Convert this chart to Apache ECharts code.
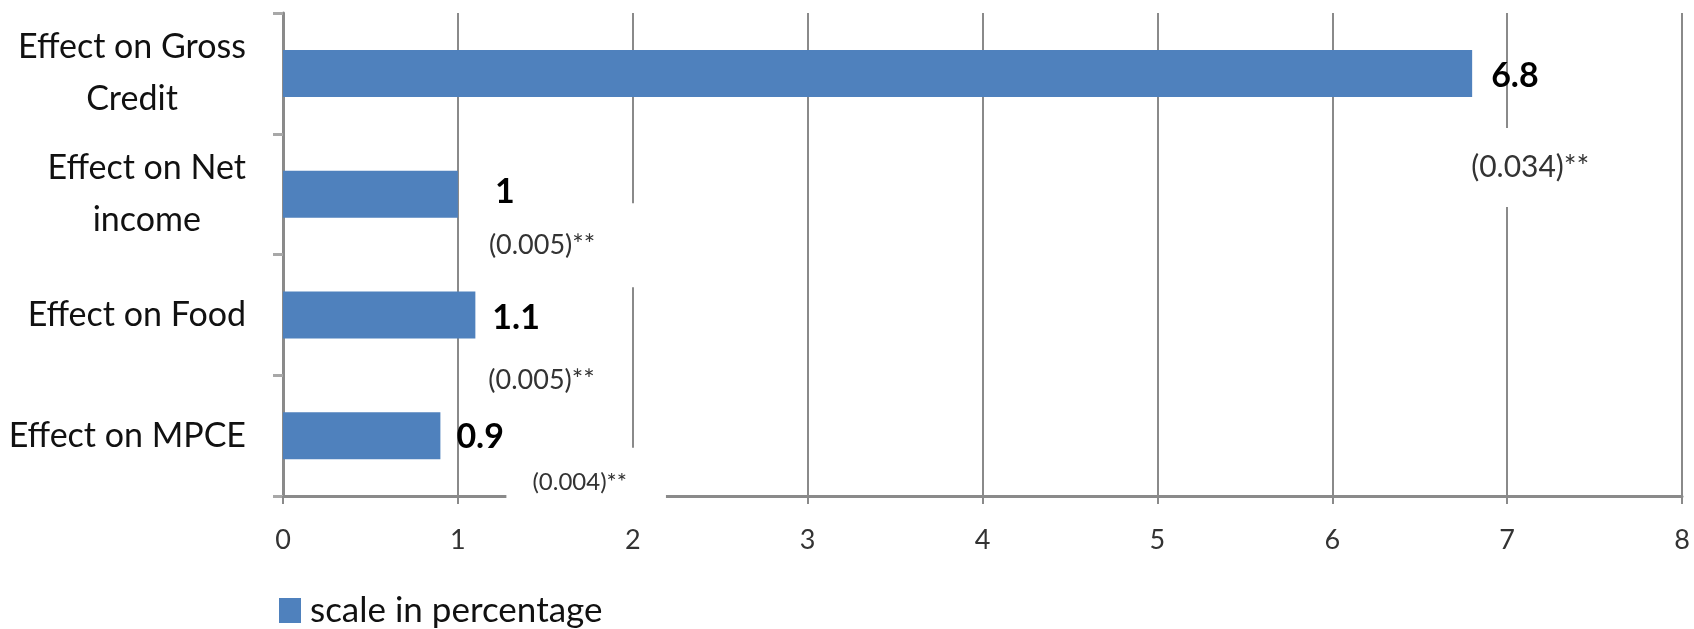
<!DOCTYPE html>
<html>
<head>
<meta charset="utf-8">
<script src="https://cdn.jsdelivr.net/npm/echarts@6/dist/echarts.min.js"></script>
<style>
html,body{margin:0;padding:0;background:#fff;}
#chart{width:1694px;height:629px;}
</style>
</head>
<body>
<div id="chart"></div>
<script>
// ---- data ----
const categories = ['Effect on Gross\nCredit', 'Effect on Net\nincome', 'Effect on Food', 'Effect on MPCE'];
const values = [6.8, 1, 1.1, 0.9];
const stdErrors = ['(0.034)**', '(0.005)**', '(0.005)**', '(0.004)**'];
const seriesName = 'scale in percentage';
const axisMin = 0;
const axisMax = 8;
const axisStep = 1;

// ---- label layout (manually placed labels in the original) ----
const valueLabelShift = [[0, 3], [18, -2], [-2, 3], [-3, 1]];
const seLabelLayout = [
  { dx: -11, dy: 94, size: 30, pad: [24, 12, 25, 10] },
  { dx: 13, dy: 51, size: 27, pad: [28, 45, 29, 18] },
  { dx: 5, dy: 65, size: 27, pad: [12, 25, 12, 8] },
  { dx: 66, dy: 47, size: 24, pad: [22, 39, 24, 26] }
];

const FONT = 'Lato';
const AXIS_GRAY = '#8a8a8a';
const BAR_BLUE = '#4f81bd';

const chart = echarts.init(document.getElementById('chart'), null, { renderer: 'canvas' });

chart.setOption({
  backgroundColor: '#ffffff',
  animation: false,
  grid: { left: 283, right: 12, top: 13, bottom: 133, containLabel: false, outerBoundsMode: 'none' },
  legend: {
    data: [seriesName],
    left: 279,
    top: 593,
    padding: 0,
    icon: 'rect',
    itemWidth: 22,
    itemHeight: 25,
    textStyle: { fontFamily: FONT, fontSize: 35, color: '#111', padding: [0, 0, 0, 4] }
  },
  xAxis: {
    type: 'value',
    min: axisMin,
    max: axisMax,
    interval: axisStep,
    axisLine: { show: true, lineStyle: { color: AXIS_GRAY, width: 3 } },
    axisTick: { show: true, length: 8, lineStyle: { color: AXIS_GRAY, width: 2 } },
    axisLabel: { fontFamily: FONT, fontSize: 27, color: '#333', margin: 31 },
    splitLine: { show: true, lineStyle: { color: AXIS_GRAY, width: 2 } }
  },
  yAxis: {
    type: 'category',
    data: categories,
    inverse: true,
    axisLine: { show: true, lineStyle: { color: AXIS_GRAY, width: 3 } },
    axisTick: { show: true, length: 10, lineStyle: { color: '#a8a8a8', width: 3 } },
    axisLabel: {
      margin: 37,
      formatter: v => v.split('\n').map(s => '{c|' + s + '}').join('\n'),
      rich: { c: { fontFamily: FONT, fontSize: 34, color: '#111', lineHeight: 52, align: 'center' } }
    },
    splitLine: { show: false }
  },
  series: [
    {
      name: 'std-error',
      type: 'bar',
      barWidth: 47,
      barGap: '-100%',
      silent: true,
      itemStyle: { color: 'rgba(0,0,0,0)' },
      data: values.map((v, i) => ({
        value: v,
        label: {
          offset: [seLabelLayout[i].dx, seLabelLayout[i].dy],
          fontSize: seLabelLayout[i].size,
          padding: seLabelLayout[i].pad
        }
      })),
      label: {
        show: true,
        position: 'right',
        distance: 0,
        formatter: p => stdErrors[p.dataIndex],
        fontFamily: FONT,
        color: '#333',
        backgroundColor: '#ffffff'
      }
    },
    {
      name: seriesName,
      type: 'bar',
      barWidth: 47,
      barGap: '-100%',
      itemStyle: { color: BAR_BLUE },
      data: values.map((v, i) => ({ value: v, label: { offset: valueLabelShift[i] } })),
      label: {
        show: true,
        position: 'right',
        distance: 19,
        fontFamily: FONT,
        fontSize: 34,
        fontWeight: 'bold',
        color: '#000',
        formatter: p => String(values[p.dataIndex])
      }
    }
  ]
});
</script>
</body>
</html>
